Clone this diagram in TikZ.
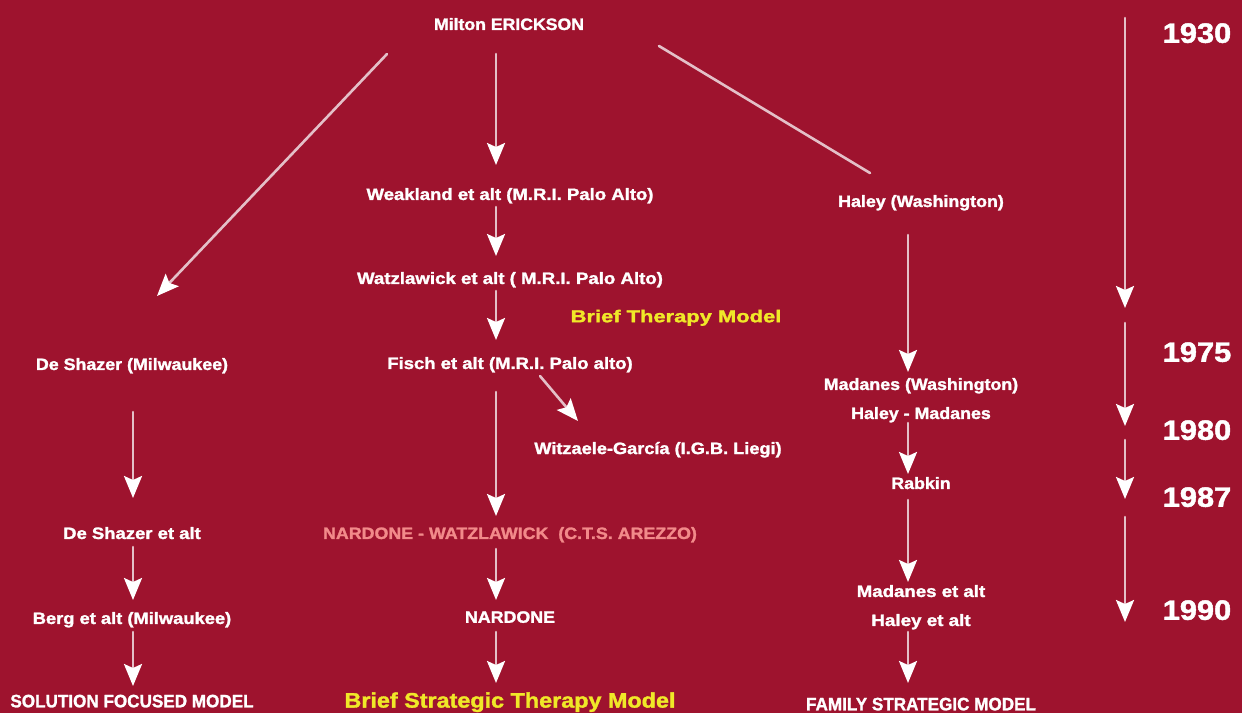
\documentclass[tikz,border=0pt]{standalone}
\usepackage{fontspec}
\setmainfont{Liberation Sans}[BoldFeatures={FakeBold=1.5}]
\usetikzlibrary{arrows.meta}
\definecolor{bgred}{RGB}{158,19,46}
\definecolor{linepink}{RGB}{228,192,200}
\definecolor{txtyel}{RGB}{240,232,40}
\definecolor{txtpink}{RGB}{242,138,138}
\begin{document}
\begin{tikzpicture}[x=1pt,y=-1pt,line join=round,line cap=round,
  lbl/.style={inner sep=0pt,text depth=0pt,text=white,font=\bfseries\fontsize{16.5}{19}\selectfont,xscale=1.08},
  yr/.style={inner sep=0pt,text depth=0pt,text=white,font=\bfseries\fontsize{28}{32}\selectfont,xscale=1.1},
  mdl/.style={inner sep=0pt,text depth=0pt,text=white,font=\bfseries\fontsize{18}{21}\selectfont,xscale=0.95},
  arr/.style={draw=linepink,line width=2.6pt,-{Stealth[length=22pt,width=18pt,inset=4pt,color=white]}},
  ln/.style={draw=linepink,line width=2.6pt}]
\fill[bgred] (0,0) rectangle (1242,713);
\useasboundingbox (0,0) rectangle (1242,713);
% names
\node[lbl,xscale=0.99] (erick) at (509,24) {Milton ERICKSON};
\node[lbl,xscale=1.04] (weakland) at (510,194) {Weakland et alt (M.R.I. Palo Alto)};
\node[lbl] (haley) at (921,201) {Haley (Washington)};
\node[lbl,xscale=1.046] (watz) at (510,278) {Watzlawick et alt ( M.R.I. Palo Alto)};
\node[lbl,text=txtyel,font=\bfseries\fontsize{17.2}{20}\selectfont,xscale=1.18] (btm) at (676,316) {Brief Therapy Model};
\node[lbl] (deshazer) at (132,364) {De Shazer (Milwaukee)};
\node[lbl,xscale=1.037] (fisch) at (510,363) {Fisch et alt (M.R.I. Palo alto)};
\node[lbl] (madanes) at (921,384) {Madanes (Washington)};
\node[lbl] (halmad) at (921,413) {Haley - Madanes};
\node[lbl,xscale=1.02] (witz) at (658,448) {Witzaele-García (I.G.B. Liegi)};
\node[lbl] (rabkin) at (921,483) {Rabkin};
\node[lbl,xscale=1.037] (deshalt) at (132,533) {De Shazer et alt};
\node[lbl,text=txtpink] (nwatz) at (510,533) {NARDONE - WATZLAWICK\ \ (C.T.S. AREZZO)};
\node[lbl,xscale=1.046] (madalt) at (921,591) {Madanes et alt};
\node[lbl,xscale=1.055] (haleyalt) at (921,620) {Haley et alt};
\node[lbl,xscale=1.028] (berg) at (132,618) {Berg et alt (Milwaukee)};
\node[lbl] (nardone) at (510,617) {NARDONE};
\node[mdl] (sfm) at (132,701) {SOLUTION FOCUSED MODEL};
\node[lbl,text=txtyel,font=\bfseries\fontsize{21}{24}\selectfont,xscale=1.03] (bstm) at (510,700) {Brief Strategic Therapy Model};
\node[mdl] (fsm) at (921,704) {FAMILY STRATEGIC MODEL};
% years
\foreach \y/\t in {33/1930,352/1975,430/1980,497/1987,610/1990}
  \node[yr] (y\t) at (1197,\y) {\t};
% links
\draw[arr] ([shift={(-122,30)}]erick.center) -- ([shift={(25,-68)}]deshazer.center);
\draw[arr] ([shift={(-13,30)}]erick.center) -- ([shift={(-14,-29)}]weakland.center);
\draw[ln] ([shift={(150,22)}]erick.center) -- ([shift={(-51,-28)}]haley.center);
\draw[arr] ([shift={(-14,13)}]weakland.center) -- ([shift={(-14,-22)}]watz.center);
\draw[arr] ([shift={(-14,13)}]watz.center) -- ([shift={(-14,-23)}]fisch.center);
\draw[arr] ([shift={(30,13)}]fisch.center) -- ([shift={(-80,-27)}]witz.center);
\draw[arr] ([shift={(-14,29)}]fisch.center) -- ([shift={(-14,-17)}]nwatz.center);
\draw[arr] ([shift={(-14,16)}]nwatz.center) -- ([shift={(-14,-17)}]nardone.center);
\draw[arr] ([shift={(-14,15)}]nardone.center) -- ([shift={(-14,-17)}]bstm.center);
\draw[arr] ([shift={(1,48)}]deshazer.center) -- ([shift={(1,-35)}]deshalt.center);
\draw[arr] ([shift={(1,14)}]deshalt.center) -- ([shift={(1,-18)}]berg.center);
\draw[arr] ([shift={(1,14)}]berg.center) -- ([shift={(1,-15)}]sfm.center);
\draw[arr] ([shift={(-13,34)}]haley.center) -- ([shift={(-13,-12)}]madanes.center);
\draw[arr] ([shift={(-13,10)}]halmad.center) -- ([shift={(-13,-9)}]rabkin.center);
\draw[arr] ([shift={(-13,17)}]rabkin.center) -- ([shift={(-13,-9)}]madalt.center);
\draw[arr] ([shift={(-13,12)}]haleyalt.center) -- ([shift={(-13,-21)}]fsm.center);
% time line
\foreach \a/\b [count=\i] in {18/308,323/426,440/499,517/622}{
  \coordinate (ts\i) at (1125,\a);
  \coordinate (te\i) at (1125,\b);
  \draw[arr] (ts\i) -- (te\i);}
\end{tikzpicture}
\end{document}
